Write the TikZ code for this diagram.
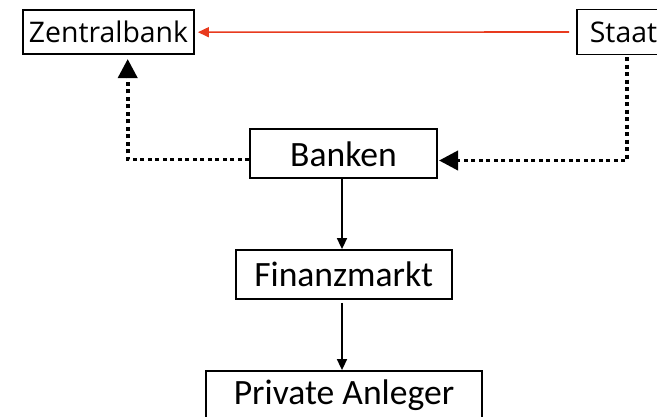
\documentclass[tikz,border=0pt]{standalone}
\usepackage{fontspec}
\setmainfont{Carlito}
\newfontfamily\topfont{Open Sans}
\usetikzlibrary{arrows.meta}
\definecolor{redarrow}{RGB}{232,58,30}
\tikzset{
  box/.style={draw=black, line width=1.8pt, inner sep=0pt, fill=white},
  smallfont/.style={font=\topfont\fontsize{28.4}{33}\selectfont},
  bigfont/.style={font=\fontsize{35.6}{40}\selectfont},
  solidarrow/.style={draw=black, line width=1.6pt, -{Triangle[length=11pt,width=10pt]}},
  redline/.style={draw=redarrow, line width=1.6pt, -{Triangle[length=11pt,width=10pt]}},
  dotarrow/.style={draw=black, line width=3.8pt, dash pattern=on 4pt off 3.5pt, -{Triangle[length=19pt,width=19pt]}}
}
\begin{document}
\begin{tikzpicture}[x=1pt,y=-1pt]
\useasboundingbox (0,0) rectangle (657,416);
\clip (0,0) rectangle (657,416);
\node[box, smallfont, minimum width=171pt, minimum height=44pt] (Zentralbank) at (108.5,32.2) {Zentralbank};
\node[box, smallfont, minimum width=93pt, minimum height=45pt] (Staat) at (623.5,32) {Staat};
\node[box, bigfont, minimum width=187pt, minimum height=49pt] (Banken) at (343.5,153.8) {Banken};
\node[box, bigfont, minimum width=216pt, minimum height=49pt] (Finanzmarkt) at (343.7,274.5) {Finanzmarkt};
\node[box, bigfont, minimum width=276pt, minimum height=49pt] (Private) at (344,395.5) {Private Anleger};
\coordinate (zbtip) at (127.7,59);
\coordinate (lcorner) at (127.7,159.5);
\coordinate (stfrom) at (626.7,57);
\coordinate (rcorner) at (626.7,160.5);
\coordinate (bktip) at (439,160.5);
\draw[redline] (Staat.west) ++(-7,0) -- ([xshift=3pt]Zentralbank.east);
\draw[dotarrow] (Banken.west |- lcorner) -- (lcorner) -- (zbtip);
\draw[dotarrow] (stfrom) -- (rcorner) -- (bktip);
\draw[solidarrow] (Banken.south -| 342,0) -- (Finanzmarkt.north -| 342,0);
\draw[solidarrow] (Finanzmarkt.south -| 342,0) ++(0,3) -- (Private.north -| 342,0);
\end{tikzpicture}
\end{document}
